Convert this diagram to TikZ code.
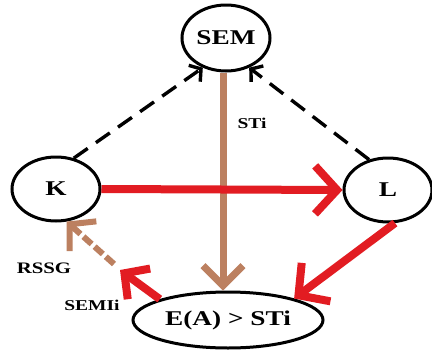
\documentclass[tikz,border=0pt]{standalone}
\usepackage{fontspec}
\setmainfont{Liberation Serif}[FakeStretch=1.3]
\usetikzlibrary{shapes.geometric,arrows.meta}
\definecolor{redA}{RGB}{226,28,34}
\definecolor{brownA}{RGB}{188,128,96}
\begin{document}
\begin{tikzpicture}[x=1pt,y=-1pt,
  ell/.style={draw=black, line width=3pt, ellipse, inner sep=0pt, font=\bfseries\fontsize{21}{23}\selectfont},
  lbl/.style={font=\bfseries\fontsize{15}{17}\selectfont, inner sep=0pt},
  blackdash/.style={line width=3.4pt, dash pattern=on 17pt off 10pt, -{Straight Barb[length=8pt,width=20pt]}},
  redarrow/.style={draw=redA, line width=8pt, -{Straight Barb[length=22pt,width=48pt]}},
  brownarrow/.style={draw=brownA, line width=7pt, -{Straight Barb[length=20pt,width=40pt]}},
  browndash/.style={draw=brownA, line width=6pt, dash pattern=on 11pt off 4pt, -{Straight Barb[length=18pt,width=40pt]}}
]
\useasboundingbox[fill=white] (0,0) rectangle (432,354);
\node[ell, minimum width=88pt, minimum height=66pt] (SEM) at (226,38) {SEM};
\node[ell, minimum width=88pt, minimum height=64pt] (K) at (56,189) {K};
\node[ell, minimum width=88pt, minimum height=64pt] (L) at (388,190) {L};
\node[ell, minimum width=190pt, minimum height=56pt] (E) at (228,320) {E(A) > STi};

\draw[blackdash] (K.60) -- (SEM.232);
\draw[blackdash] (L.122) -- (SEM.308);

\draw[brownarrow] (SEM.south -| 223,0) -- (E.north -| 223,0);
\draw[redarrow] (K.east) -- (L.west);
\draw[redarrow] (L.282) -- (E.18);

\coordinate (mid) at (120,270);
\coordinate (mid2) at (114,264);
\draw[redarrow, -{Straight Barb[length=18pt,width=38pt]}] (E.163) -- (mid);
\draw[browndash] (mid2) -- (K.288);

\node[lbl] (sti) at (252,123) {STi};
\node[lbl, font=\bfseries\fontsize{16}{18}\selectfont] (rssg) at (44,268) {RSSG};
\node[lbl] (semii) at (92,305) {SEMIi};
\end{tikzpicture}
\end{document}
